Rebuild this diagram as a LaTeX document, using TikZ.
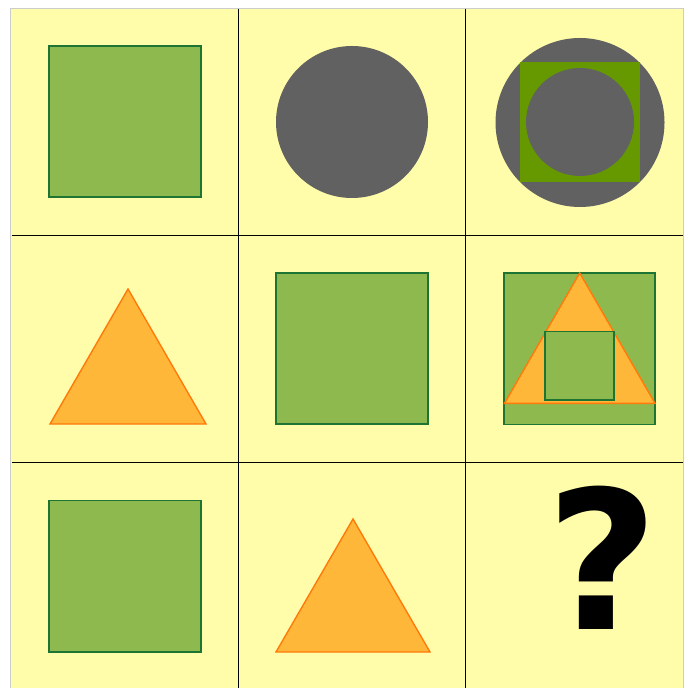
\documentclass[tikz,border=0pt]{standalone}
\usepackage{fontspec}
\newfontfamily\qfont{DejaVu Sans}
\usepackage{tikz}
\usetikzlibrary{positioning}
\definecolor{cPaper}{HTML}{FFFDAA}
\definecolor{cGreen}{HTML}{8EB94F}
\definecolor{cDkGreen}{HTML}{1E7433}
\definecolor{cOlive}{HTML}{669900}
\definecolor{cGray}{HTML}{616161}
\definecolor{cAmber}{HTML}{FFB73A}
\definecolor{cOrange}{HTML}{FF7A0A}
\tikzset{
  gridline/.style={line width=0.9pt, black},
  gsquare/.style={draw=cDkGreen, fill=cGreen, line width=0.8pt},
  osquare/.style={fill=cOlive},
  gdisc/.style={fill=cGray},
  otri/.style={draw=cOrange, fill=cAmber, line width=0.8pt, line join=miter},
  qmark/.style={font=\qfont\bfseries\fontsize{110}{110}\selectfont, inner sep=0pt},
}
\begin{document}
\begin{tikzpicture}[x=0.02cm, y=-0.02cm]
  \useasboundingbox (0,0) rectangle (683,688);

  % Paper and grid
  \fill[cPaper, draw=black!20, line width=0.4pt] (10.5,8) rectangle (683,688);
  \draw[gridline] (238.5,9) -- (238.5,688);
  \draw[gridline] (465.5,9) -- (465.5,688);
  \draw[gridline] (12,235.5) -- (683,235.5);
  \draw[gridline] (12,462.5) -- (683,462.5);

  % Row 1
  \draw[gsquare] (49,46) rectangle (201,197);
  \fill[gdisc] (352,122) circle (76);
  \fill[gdisc] (580,122.5) circle (84.5);
  \fill[osquare] (519.5,62) rectangle (640,182.5);
  \fill[gdisc] (580,122) circle (54);

  % Row 2
  \draw[otri] (128,289) -- (206,424) -- (50,424) -- cycle;
  \draw[gsquare] (276,273) rectangle (428,424);
  \draw[gsquare] (504,273) rectangle (655,424.5);
  \draw[otri] (579.7,273) -- (655,403.3) -- (504.5,403.3) -- cycle;
  \draw[gsquare] (545,331.7) rectangle (614,400);

  % Row 3
  \draw[gsquare] (49,500.5) rectangle (201,652);
  \draw[otri] (353,519) -- (430,652) -- (276,652) -- cycle;
  \node[qmark, anchor=base] (q) at (603,629) {?};

\end{tikzpicture}
\end{document}
